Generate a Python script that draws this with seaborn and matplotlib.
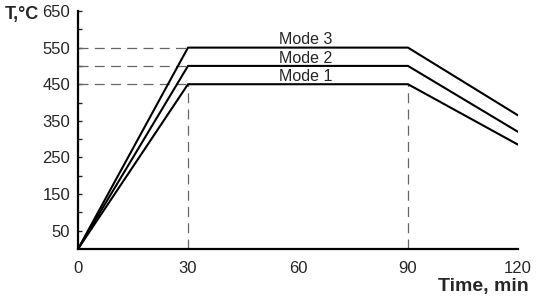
import numpy as np
import pandas as pd
import matplotlib.pyplot as plt
import seaborn as sns

# values
time_min = [0, 30, 90, 120]
mode_names = ["Mode 1", "Mode 2", "Mode 3"]
mode1_temp = [0, 450, 450, 285]
mode2_temp = [0, 500, 500, 320]
mode3_temp = [0, 550, 550, 365]
hold_levels = [450, 500, 550]
hold_start, hold_end = 30, 90
x_ticks = [0, 30, 60, 90, 120]
y_labels = [50, 150, 250, 350, 450, 550, 650]

sns.set_style("white")
plt.rcParams['font.family'] = ['Liberation Sans', 'DejaVu Sans']

df = pd.DataFrame({
    'time': time_min * 3,
    'temp': mode1_temp + mode2_temp + mode3_temp,
    'mode': [m for m in mode_names for _ in time_min],
})

fig = plt.figure(figsize=(5.5, 3.02), dpi=100)
ax = fig.add_axes([0.1418, 0.1755, 0.80, 0.7881])

# dashed guide lines
dash = dict(color='#666666', lw=0.9, dashes=(8, 5))
for lvl in hold_levels:
    ax.plot([0, hold_start], [lvl, lvl], **dash)
ax.plot([hold_start, hold_start], [0, hold_levels[0]], **dash)
ax.plot([hold_end, hold_end], [0, hold_levels[0]], **dash)

sns.lineplot(data=df, x='time', y='temp', units='mode', estimator=None,
             color='black', lw=1.5, ax=ax, legend=False)

# mode labels above the hold lines
for name, lvl in zip(mode_names, hold_levels):
    ax.text(62, lvl + 1, name, ha='center', va='bottom', fontsize=11.5)

ax.set_xlim(0, 120)
ax.set_ylim(0, 650)
ax.set_xticks(x_ticks)
ax.set_yticks(np.arange(50, 651, 50))
ax.set_yticklabels([str(v) if v in y_labels else '' for v in np.arange(50, 651, 50)])
ax.tick_params(axis='x', length=0, pad=9, labelsize=12)
ax.tick_params(axis='y', direction='in', length=3, width=1, pad=5.5, labelsize=12,
               left=True)
ax.set_xlabel('')
ax.set_ylabel('')
sns.despine(ax=ax)
for side in ['left', 'bottom']:
    ax.spines[side].set_linewidth(1.6)
    ax.spines[side].set_color('black')

fig.text(0.008, 0.953, 'T,°C', fontsize=13, fontweight='bold', va='center', ha='left')
fig.text(0.962, 0.05, 'Time, min', fontsize=14, fontweight='bold', va='center', ha='right')

fig.savefig('out.png', dpi=100)
